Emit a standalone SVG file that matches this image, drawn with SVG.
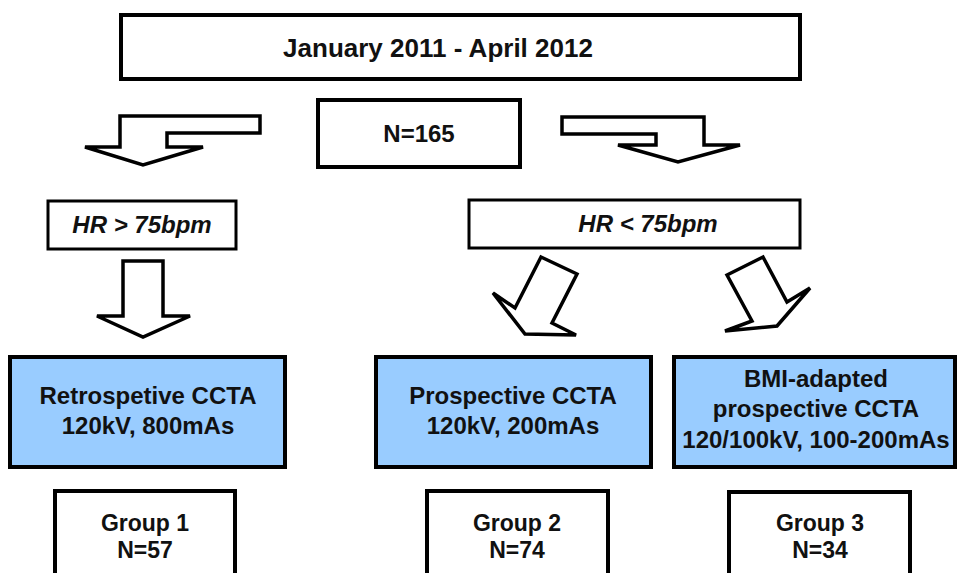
<svg xmlns="http://www.w3.org/2000/svg" width="958" height="573" viewBox="0 0 958 573">
<style>
.box{fill:#fff;stroke:#000;stroke-width:4}
.blue{fill:#99ccff;stroke:#000;stroke-width:4}
.hr{fill:#fff;stroke:#000;stroke-width:3}
.arr{fill:#fff;stroke:#000;stroke-width:3.5;stroke-linejoin:miter}
text{font-family:"Liberation Sans",Arial,sans-serif;font-weight:bold;font-size:24px;text-anchor:middle;fill:#111}
.t{font-size:26px}
.it{font-style:italic;font-size:24px}
.g{font-size:23px}
</style>
<rect width="958" height="573" fill="#fff"/>
<g id="period"><rect class="box" x="121" y="15" width="679" height="64"/><text class="t" x="438" y="57">January 2011 - April 2012</text></g>
<g id="total"><rect class="box" x="318" y="100" width="202" height="67"/><text x="419" y="142">N=165</text></g>
<g id="hr-high"><rect class="hr" x="48" y="201" width="188" height="48"/><text class="it" x="142" y="233">HR &gt; 75bpm</text></g>
<g id="hr-low"><rect class="hr" x="469" y="200" width="331" height="48"/><text class="it" x="648" y="232">HR &lt; 75bpm</text></g>
<g id="retro"><rect class="blue" x="10" y="357" width="275" height="110"/><text x="148" y="404">Retrospetive CCTA</text><text x="148" y="434">120kV, 800mAs</text></g>
<g id="prosp"><rect class="blue" x="376" y="357" width="275" height="110"/><text x="513" y="404">Prospective CCTA</text><text x="513" y="434">120kV, 200mAs</text></g>
<g id="bmi"><rect class="blue" x="674" y="357" width="281" height="110"/><text x="816" y="387">BMI-adapted</text><text x="816" y="417">prospective CCTA</text><text x="816" y="448">120/100kV, 100-200mAs</text></g>
<g id="group1"><rect class="box" x="55" y="491" width="180" height="100"/><text class="g" x="145" y="531">Group 1</text><text class="g" x="145" y="558">N=57</text></g>
<g id="group2"><rect class="box" x="427" y="491" width="181" height="100"/><text class="g" x="517" y="531">Group 2</text><text class="g" x="517" y="558">N=74</text></g>
<g id="group3"><rect class="box" x="729" y="492" width="181" height="100"/><text class="g" x="820" y="531">Group 3</text><text class="g" x="820" y="558">N=34</text></g>
<g id="connectors">
<polygon class="arr" points="120,116 260,116 260,133 167,133 167,147 203,147 143,165 85,147 120,147"/>
<polygon class="arr" points="562,117 704,117 704,145 740,145 678,162 618,145 656,145 656,134 562,134"/>
<polygon class="arr" points="123,261 163,261 163,316 190,316 143,337 97,316 123,316"/>
<polygon class="arr" points="541,257 577,274 552,323 576,335 525,334 493,293 515,308"/>
<polygon class="arr" points="727,275 763,257 787,302 810,288 777,326 725,331 752,321"/>
</g>
</svg>
